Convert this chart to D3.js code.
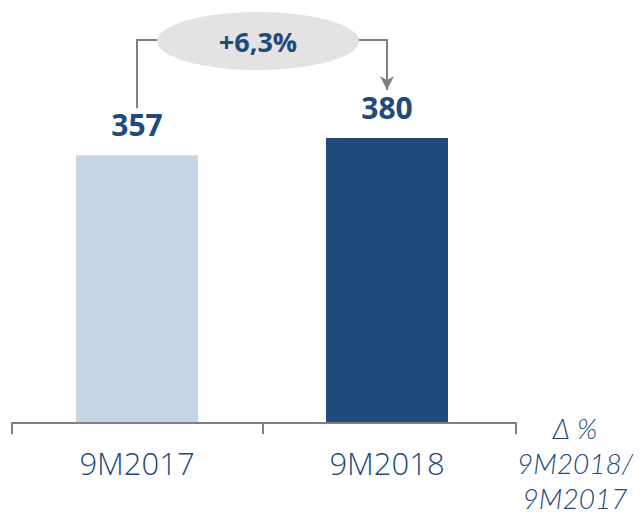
<!DOCTYPE html>
<html>
<head>
<meta charset="utf-8">
<script src="https://cdn.jsdelivr.net/npm/d3@7"></script>
<style>
  body { margin: 0; background: #fff; }
  svg { display: block; }
  text { font-family: "Open Sans", Lato, sans-serif; }
</style>
</head>
<body>
<div class="chart"></div>
<script>
var categories = ['9M2017', '9M2018'];
var values = [357, 380];
var barColors = ['#c5d5e4', '#214a7c'];
var changeLabel = '+6,3%';
var deltaLines = ['\u0394 %', '9M2018/', '9M2017'];

var width = 642, height = 518;
var blue = '#214a7c';
var grey = '#808080';

var svg = d3.select('.chart').append('svg')
  .attr('width', width)
  .attr('height', height);

var x = d3.scaleBand()
  .domain(categories)
  .range([12, 512])
  .padding(0);

var y = d3.scaleLinear()
  .domain([0, 380])
  .range([423, 138]);

var barW = 122;
function mid(c){ return x(c) + x.bandwidth() / 2 }

// bars
svg.selectAll('rect.bar')
  .data(values)
  .enter().append('rect')
  .attr('class', 'bar')
  .attr('x', function(d, i){ return mid(categories[i]) - barW / 2 })
  .attr('y', function(d){ return y(d) })
  .attr('width', barW)
  .attr('height', function(d){ return y(0) - y(d) })
  .attr('fill', function(d, i){ return barColors[i] });

// value labels
svg.selectAll('text.val')
  .data(values)
  .enter().append('text')
  .attr('class', 'val')
  .attr('x', function(d, i){ return mid(categories[i]) })
  .attr('y', function(d){ return y(d) - 19 })
  .attr('text-anchor', 'middle')
  .attr('font-size', 30)
  .attr('font-weight', 'bold')
  .attr('fill', blue)
  .text(function(d){ return d });

// axis line with ticks
var axisY = 423;
svg.append('line')
  .attr('x1', 12).attr('x2', 516)
  .attr('y1', axisY).attr('y2', axisY)
  .attr('stroke', grey).attr('stroke-width', 2);
[12, 263, 516].forEach(function(t){
  svg.append('line')
    .attr('x1', t).attr('x2', t)
    .attr('y1', axisY - 1).attr('y2', axisY + 11)
    .attr('stroke', grey).attr('stroke-width', 2);
});

// category labels
svg.selectAll('text.cat')
  .data(categories)
  .enter().append('text')
  .attr('class', 'cat')
  .attr('x', function(d){ return mid(d) })
  .attr('y', 475)
  .attr('text-anchor', 'middle')
  .attr('font-size', 31)
  .attr('font-weight', 300)
  .attr('fill', blue)
  .text(function(d){ return d });

// delta label (Lato: tighter line box, so the three lines fit)
svg.selectAll('text.delta')
  .data(deltaLines)
  .enter().append('text')
  .attr('class', 'delta')
  .attr('x', 575)
  .attr('y', function(d, i){ return 439 + i * 35 })
  .attr('text-anchor', 'middle')
  .style('font-family', 'Lato, sans-serif')
  .attr('font-size', 28)
  .attr('font-weight', 300)
  .attr('font-style', 'italic')
  .attr('fill', blue)
  .text(function(d){ return d });

// connector
var cx0 = mid(categories[0]);
var cx1 = mid(categories[1]);
var ey = 40;

svg.append('defs').append('marker')
  .attr('id', 'arrow')
  .attr('viewBox', '0 0 10 10')
  .attr('refX', 10).attr('refY', 5)
  .attr('markerWidth', 7).attr('markerHeight', 7)
  .attr('markerUnits', 'strokeWidth')
  .attr('orient', 'auto')
  .append('path')
  .attr('d', 'M0,0 L10,5 L0,10 L3,5 Z')
  .attr('fill', grey);

svg.append('path')
  .attr('d', 'M' + cx0 + ',' + (y(values[0]) - 47) + ' V' + ey + ' H' + (cx0 + 40))
  .attr('fill', 'none')
  .attr('stroke', grey).attr('stroke-width', 2);

svg.append('path')
  .attr('d', 'M' + (cx1 - 40) + ',' + ey + ' H' + cx1 + ' V' + (y(values[1]) - 48))
  .attr('fill', 'none')
  .attr('stroke', grey).attr('stroke-width', 2)
  .attr('marker-end', 'url(#arrow)');

svg.append('ellipse')
  .attr('cx', 258).attr('cy', 41)
  .attr('rx', 101).attr('ry', 29)
  .attr('fill', '#e3e3e3');

svg.append('text')
  .attr('x', 258).attr('y', 52)
  .attr('text-anchor', 'middle')
  .attr('font-size', 27)
  .attr('font-weight', 'bold')
  .attr('fill', blue)
  .text(changeLabel);
</script>
</body>
</html>
